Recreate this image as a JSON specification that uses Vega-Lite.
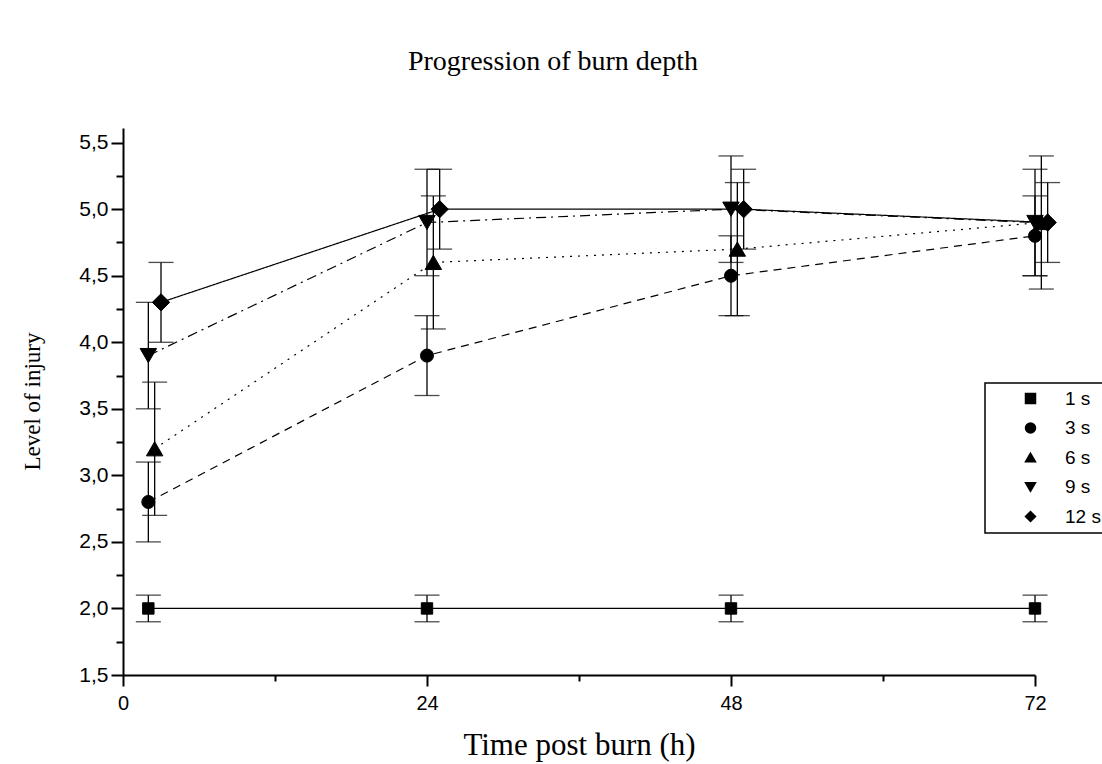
{
  "$schema": "https://vega.github.io/schema/vega-lite/v6.json",
  "width": 912,
  "height": 547,
  "autosize": {"type": "none"},
  "padding": {"left": 123, "top": 128, "right": 67, "bottom": 89},
  "background": "white",
  "title": {
    "text": "Progression of burn depth",
    "font": "Liberation Serif",
    "fontSize": 28,
    "fontWeight": "normal",
    "color": "black",
    "anchor": "middle",
    "dx": -26,
    "offset": 52
  },
  "data": {
    "values": [
      {"series": "1 s", "time": 2, "level": 2.0, "lo": 1.9, "hi": 2.1},
      {"series": "1 s", "time": 24, "level": 2.0, "lo": 1.9, "hi": 2.1},
      {"series": "1 s", "time": 48, "level": 2.0, "lo": 1.9, "hi": 2.1},
      {"series": "1 s", "time": 72, "level": 2.0, "lo": 1.9, "hi": 2.1},
      {"series": "3 s", "time": 2, "level": 2.8, "lo": 2.5, "hi": 3.1},
      {"series": "3 s", "time": 24, "level": 3.9, "lo": 3.6, "hi": 4.2},
      {"series": "3 s", "time": 48, "level": 4.5, "lo": 4.2, "hi": 4.8},
      {"series": "3 s", "time": 72, "level": 4.8, "lo": 4.5, "hi": 5.1},
      {"series": "6 s", "time": 2.5, "level": 3.2, "lo": 2.7, "hi": 3.7},
      {"series": "6 s", "time": 24.5, "level": 4.6, "lo": 4.1, "hi": 5.1},
      {"series": "6 s", "time": 48.5, "level": 4.7, "lo": 4.2, "hi": 5.2},
      {"series": "6 s", "time": 72.5, "level": 4.9, "lo": 4.4, "hi": 5.4},
      {"series": "9 s", "time": 2, "level": 3.9, "lo": 3.5, "hi": 4.3},
      {"series": "9 s", "time": 24, "level": 4.9, "lo": 4.5, "hi": 5.3},
      {"series": "9 s", "time": 48, "level": 5.0, "lo": 4.6, "hi": 5.4},
      {"series": "9 s", "time": 72, "level": 4.9, "lo": 4.5, "hi": 5.3},
      {"series": "12 s", "time": 3, "level": 4.3, "lo": 4.0, "hi": 4.6},
      {"series": "12 s", "time": 25, "level": 5.0, "lo": 4.7, "hi": 5.3},
      {"series": "12 s", "time": 49, "level": 5.0, "lo": 4.7, "hi": 5.3},
      {"series": "12 s", "time": 73, "level": 4.9, "lo": 4.6, "hi": 5.2}
    ]
  },
  "resolve": {"axis": {"x": "independent", "y": "independent"}},
  "layer": [
    {
      "mark": {"type": "line", "color": "black", "strokeWidth": 1.2},
      "encoding": {
        "x": {
          "field": "time", "type": "quantitative",
          "scale": {"domain": [0, 72], "nice": false, "zero": false},
          "axis": {
            "orient": "bottom",
            "values": [0, 24, 48, 72],
            "title": "Time post burn (h)",
            "titleFont": "Liberation Serif", "titleFontSize": 31, "titleFontWeight": "normal", "titleColor": "black",
            "titleX": 456, "titleY": 70, "titleBaseline": "middle", "titleAlign": "center",
            "labelFont": "Liberation Sans", "labelFontSize": 20, "labelColor": "black",
            "labelPadding": 7, "labelFlush": false,
            "tickSize": 11, "tickWidth": 2, "tickColor": "black",
            "domainWidth": 2, "domainColor": "black", "grid": false
          }
        },
        "y": {
          "field": "level", "type": "quantitative",
          "scale": {"domain": [1.5, 5.61], "nice": false, "zero": false},
          "axis": {
            "orient": "left",
            "values": [1.5, 2.0, 2.5, 3.0, 3.5, 4.0, 4.5, 5.0, 5.5],
            "labelExpr": "replace(format(datum.value, '.1f'), '.', ',')",
            "title": "Level of injury",
            "titleFont": "Liberation Serif", "titleFontSize": 23, "titleFontWeight": "normal", "titleColor": "black",
            "titleX": -91, "titleY": 273, "titleAngle": -90, "titleBaseline": "middle", "titleAlign": "center",
            "labelFont": "Liberation Sans", "labelFontSize": 21, "labelColor": "black",
            "labelPadding": 3, "labelFlush": false,
            "tickSize": 12, "tickWidth": 2, "tickColor": "black",
            "domainWidth": 2, "domainColor": "black", "grid": false
          }
        },
        "detail": {"field": "series"},
        "strokeDash": {
          "field": "series", "type": "nominal",
          "scale": {"domain": ["12 s", "9 s", "6 s", "3 s", "1 s"], "range": [[1, 0], [10, 5, 2, 5], [2, 6], [8, 6], [1, 0]]},
          "legend": null
        }
      }
    },
    {
      "mark": {"type": "rule", "color": "black", "strokeWidth": 1.3},
      "encoding": {
        "x": {
          "field": "time", "type": "quantitative",
          "axis": {
            "orient": "bottom", "values": [12, 36, 60], "labels": false, "domain": false, "title": null,
            "tickSize": 6, "tickWidth": 2, "tickColor": "black", "grid": false
          }
        },
        "y": {
          "field": "lo", "type": "quantitative",
          "axis": {
            "orient": "left", "values": [1.75, 2.25, 2.75, 3.25, 3.75, 4.25, 4.75, 5.25], "labels": false, "domain": false, "title": null,
            "tickSize": 7, "tickWidth": 2, "tickColor": "black", "grid": false
          }
        },
        "y2": {"field": "hi"}
      }
    },
    {
      "mark": {"type": "tick", "orient": "horizontal", "color": "black", "size": 25, "thickness": 1.3},
      "encoding": {
        "x": {"field": "time", "type": "quantitative", "axis": null},
        "y": {"field": "lo", "type": "quantitative", "axis": null}
      }
    },
    {
      "mark": {"type": "tick", "orient": "horizontal", "color": "black", "size": 25, "thickness": 1.3},
      "encoding": {
        "x": {"field": "time", "type": "quantitative", "axis": null},
        "y": {"field": "hi", "type": "quantitative", "axis": null}
      }
    },
    {
      "mark": {"type": "point", "filled": true, "color": "black", "opacity": 1, "stroke": "black", "strokeWidth": 1},
      "encoding": {
        "x": {"field": "time", "type": "quantitative", "axis": null},
        "y": {"field": "level", "type": "quantitative", "axis": null},
        "size": {
          "field": "series", "type": "nominal",
          "scale": {"type": "ordinal", "domain": ["3 s", "1 s", "6 s", "9 s", "12 s"], "range": [170, 130, 270, 270, 300]},
          "legend": null
        },
        "shape": {
          "field": "series", "type": "nominal",
          "scale": {"domain": ["1 s", "3 s", "6 s", "9 s", "12 s"], "range": ["square", "circle", "triangle-up", "triangle-down", "diamond"]},
          "legend": {
            "title": null,
            "orient": "none",
            "legendX": 862,
            "legendY": 255,
            "strokeColor": "black",
            "fillColor": "white",
            "padding": 6,
            "labelFont": "Liberation Sans",
            "labelFontSize": 19,
            "labelColor": "black",
            "symbolOffset": 30,
            "labelOffset": 25,
            "rowPadding": 9.5,
            "encode": {
              "symbols": {
                "shape": {
                  "condition": [
                    {"test": "datum.value === '1 s'", "value": "M-5.4,0H5.6M-1,-1H1V1H-1Z"},
                    {"test": "datum.value === '3 s'", "value": "M-5.2,0H-4M1.8,0H3M-1.2,0A1.2,1.2,0,1,0,1.2,0A1.2,1.2,0,1,0,-1.2,0Z"},
                    {"test": "datum.value === '6 s'", "value": "M-5.6,0H-5.2M-4.1,0H-3.7M3.3,0H3.7M4.7,0H5.1M0,-1.5L1.6,1.3H-1.6Z"},
                    {"test": "datum.value === '9 s'", "value": "M-5.4,0H-4M-3.1,0H-2.8M2,0H3.4M4.3,0H4.6M0,1.5L1.6,-1.3H-1.6Z"}
                  ],
                  "value": "M-5.4,0H5.6M-1.7,0L0,-1.7L1.7,0L0,1.7Z"
                },
                "size": {"value": 100},
                "fill": {"value": "black"},
                "stroke": {"value": "black"},
                "strokeWidth": {"value": 1.3},
                "opacity": {"value": 1}
              }
            }
          }
        }
      }
    }
  ],
  "config": {
    "view": {"stroke": null},
    "legend": {"strokeWidth": 1.5}
  }
}
